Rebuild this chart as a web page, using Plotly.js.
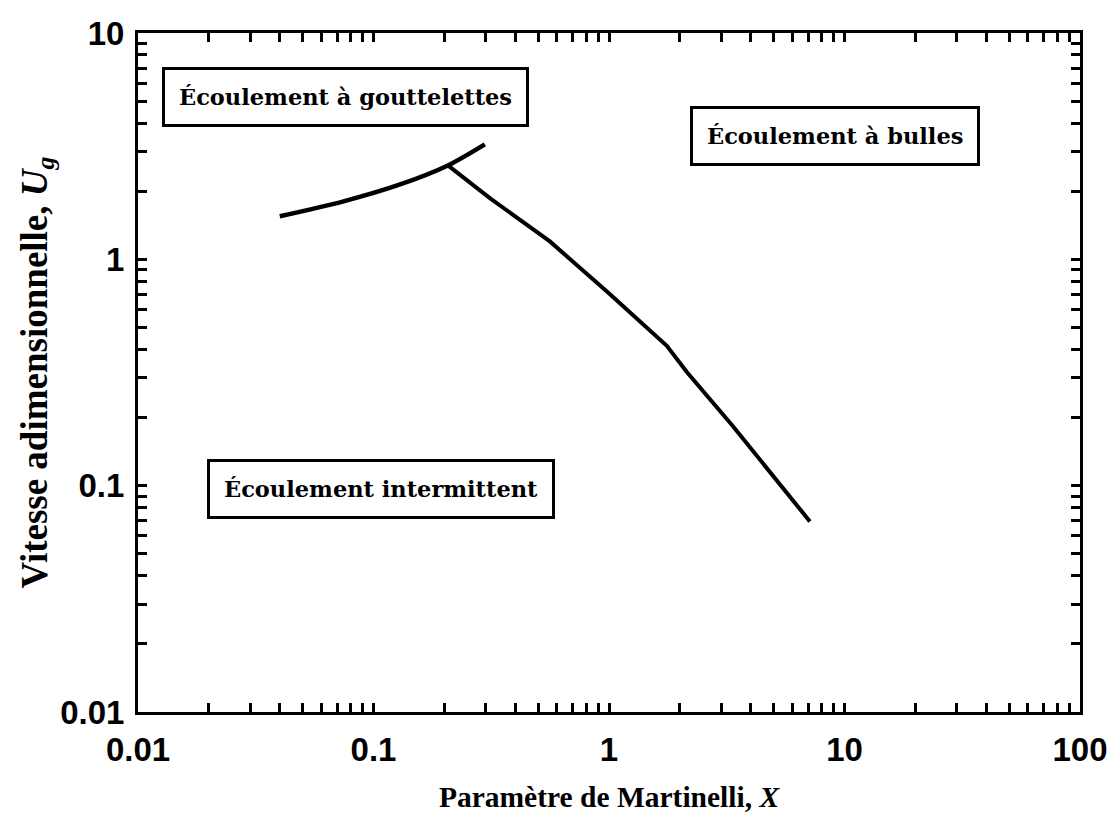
<!DOCTYPE html>
<html>
<head>
<meta charset="utf-8">
<script src="https://cdn.plot.ly/plotly-3.0.1.min.js"></script>
<style>html,body{margin:0;padding:0;background:#fff;}#chart{width:1112px;height:832px;}</style>
</head>
<body>
<div id="chart"></div>
<script>
// Upper branch (droplet / intermittent boundary)
const upperX = [0.040, 0.074, 0.126, 0.207, 0.297];
const upperY = [1.55, 1.80, 2.12, 2.60, 3.22];
// Lower branch (bubble / intermittent boundary)
const lowerX = [0.207, 0.313, 0.561, 0.98, 1.76, 2.14, 3.36, 7.13];
const lowerY = [2.60, 1.86, 1.20, 0.72, 0.415, 0.318, 0.183, 0.0695];

const xTickVals = [];
const yTickVals = [];
const xDecades = [0.01, 0.1, 1, 10];
const yDecades = [0.01, 0.1, 1];
xDecades.forEach(d => { for (let k = 1; k < 10; k++) xTickVals.push(+(d * k).toPrecision(3)); });
xTickVals.push(100);
yDecades.forEach(d => { for (let k = 1; k < 10; k++) yTickVals.push(+(d * k).toPrecision(3)); });
yTickVals.push(10);
const xMajorLabels = {"0.01": "0.01", "0.1": "0.1", "1": "1", "10": "10", "100": "100"};
const yMajorLabels = {"0.01": "0.01", "0.1": "0.1", "1": "1", "10": "10"};
const xTickText = xTickVals.map(v => xMajorLabels[String(v)] || "");
const yTickText = yTickVals.map(v => yMajorLabels[String(v)] || "");

const regionLabels = ["Écoulement à gouttelettes", "Écoulement à bulles", "Écoulement intermittent"];
const regionX = [0.0764, 9.12, 0.108];
const regionY = [5.24, 3.50, 0.097];

const traces = [
  {x: upperX, y: upperY, mode: "lines", line: {color: "#000", width: 4.5, shape: "spline", smoothing: 0.8}, hoverinfo: "skip"},
  {x: lowerX, y: lowerY, mode: "lines", line: {color: "#000", width: 4}, hoverinfo: "skip"}
];

const tickFont = {family: "Liberation Sans, Arial, sans-serif", size: 33, color: "#000", weight: "bold"};
const xTitleFont = {family: "Liberation Serif, Times New Roman, serif", size: 29.5, color: "#000", weight: "bold"};
const yTitleFont = {family: "Liberation Serif, Times New Roman, serif", size: 37, color: "#000", weight: "bold"};

const layout = {
  width: 1112, height: 832,
  margin: {l: 138, r: 32, t: 33, b: 120},
  paper_bgcolor: "#fff", plot_bgcolor: "#fff",
  showlegend: false,
  xaxis: {
    type: "log", range: [-2, 2],
    tickmode: "array", tickvals: xTickVals, ticktext: xTickText,
    ticks: "inside", ticklen: 9, tickwidth: 3, tickcolor: "#000",
    showline: true, linewidth: 3, linecolor: "#000", mirror: "allticks",
    showgrid: false, zeroline: false,
    tickfont: tickFont, ticklabelstandoff: 6,
    title: {text: "Paramètre de Martinelli, <i>X</i>", font: xTitleFont, standoff: 20}
  },
  yaxis: {
    type: "log", range: [-2, 1],
    tickmode: "array", tickvals: yTickVals, ticktext: yTickText,
    ticks: "inside", ticklen: 9, tickwidth: 3, tickcolor: "#000",
    showline: true, linewidth: 3, linecolor: "#000", mirror: "allticks",
    showgrid: false, zeroline: false,
    tickfont: tickFont, ticklabelstandoff: 4,
    title: {text: "Vitesse adimensionnelle, <i>U</i><sub><i>g</i></sub>", font: yTitleFont, standoff: 2}
  },
  annotations: regionLabels.map((t, i) => ({
    x: Math.log10(regionX[i]), y: Math.log10(regionY[i]), xref: "x", yref: "y",
    text: t, showarrow: false,
    font: {family: "DejaVu Serif, serif", size: 22.5, color: "#000", weight: "bold"},
    bgcolor: "#fff", bordercolor: "#000", borderwidth: 3, borderpad: 14
  }))
};

Plotly.newPlot("chart", traces, layout, {displayModeBar: false, staticPlot: true});
</script>
</body>
</html>
